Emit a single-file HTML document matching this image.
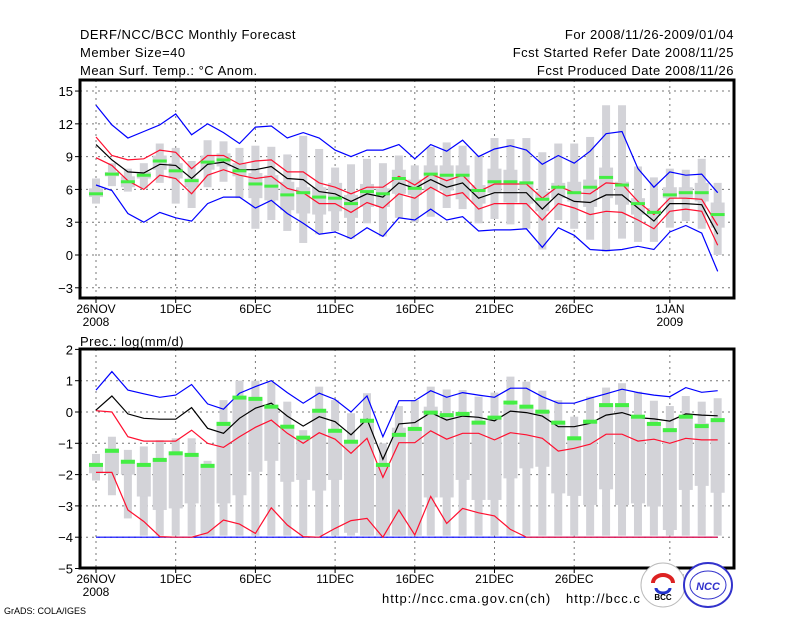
<!DOCTYPE html>
<html><head><meta charset="utf-8"><style>
body{margin:0;background:#fff;}
svg text{font-family:"Liberation Sans",sans-serif;}
.hd{letter-spacing:0.5px;}
</style></head><body>
<svg id="c" width="800" height="618" viewBox="0 0 800 618" xmlns="http://www.w3.org/2000/svg">
<rect width="800" height="618" fill="#fff"/>
<g font-size="13" fill="#000" class="hd">
<text x="80" y="39">DERF/NCC/BCC Monthly Forecast</text>
<text x="80" y="57">Member Size=40</text>
<text x="80" y="75">Mean Surf. Temp.: °C Anom.</text>
<text x="734" y="39" text-anchor="end">For 2008/11/26-2009/01/04</text>
<text x="734" y="57" text-anchor="end">Fcst Started Refer Date 2008/11/25</text>
<text x="734" y="75" text-anchor="end">Fcst Produced Date 2008/11/26</text>
</g>
<text x="80" y="346" font-size="13" class="hd">Prec.: log(mm/d)</text>
<g id="top"></g><g id="bot"></g>
<text x="382" y="603" font-size="13" style="letter-spacing:1px">http://ncc.cma.gov.cn(ch)</text>
<text x="566" y="603" font-size="13" style="letter-spacing:1px">http://bcc.c</text>
<text x="4" y="614" font-size="9">GrADS: COLA/IGES</text>
<g><circle cx="663" cy="585" r="22" fill="#fff" stroke="#bbb"/><path d="M653 583 a10 8 0 1 1 20 0" fill="none" stroke="#d22" stroke-width="4"/><path d="M656 588 a7 5 0 1 0 14 0" fill="none" stroke="#23c" stroke-width="3"/><text x="663" y="600" font-size="8" text-anchor="middle" font-weight="bold">BCC</text></g>
<g><ellipse cx="708" cy="585" rx="24" ry="22" fill="#fff" stroke="#33c" stroke-width="2"/><ellipse cx="708" cy="585" rx="18" ry="14" fill="none" stroke="#33c"/><text x="708" y="590" font-size="11" text-anchor="middle" fill="#33c" font-style="italic" font-weight="bold">NCC</text></g>
</svg>
<script>
const days=40;
const tMax=[13.7,11.9,10.7,11.3,11.9,12.9,11,12,11.2,10.2,11.7,11.8,10.7,11.2,10.7,9.6,9.0,9.6,9.6,10.1,8.8,10.1,9.5,10.5,9.0,9.7,10.0,9.6,8.3,9.1,8.4,9.5,11.1,11.3,7.9,6.2,7.6,7.3,7.4,5.7];
const tUp=[10.8,9.1,8.7,8.8,9.6,9.4,7.9,9.1,9.1,8.3,8.6,8.7,7.6,7.6,6.6,6.2,5.6,6.2,6.2,7.2,6.4,7.4,6.8,7.3,5.8,6.5,6.5,6.5,5.2,6.3,5.7,5.6,6.6,6.5,4.9,3.7,5.2,5.2,5.1,2.7];
const tMean=[10.1,8.7,7.6,7.5,8.3,8.2,7.0,8.3,8.5,7.8,7.8,8.1,7.0,6.9,5.8,5.6,4.9,5.6,5.3,6.6,6.1,6.9,6.2,6.6,5.2,5.7,5.7,5.7,4.2,5.6,4.9,4.8,5.5,5.5,4.3,3.1,4.7,4.7,4.6,1.9];
const tLo=[8.9,8.2,6.8,6.0,7.3,7.0,5.6,7.3,7.8,7.3,7.0,7.2,6.1,5.7,4.7,4.7,3.9,4.8,4.3,5.6,5.2,6.2,5.4,5.7,4.2,4.7,4.7,4.7,3.2,4.7,4.3,3.7,4.0,3.9,3.2,2.4,4.0,4.2,4.0,0.9];
const tMin=[6.4,5.9,3.8,3.0,3.9,3.4,3.1,4.7,5.3,5.3,4.3,5.0,3.8,2.9,1.9,2.1,1.5,2.5,1.7,3.4,3.2,4.2,3.2,3.5,2.2,2.3,2.3,2.4,0.7,2.5,1.8,0.5,0.4,0.5,0.8,0.5,2.1,2.7,2.0,-1.5];
const tWhHi=[7.0,8.4,7.9,8.4,10.2,9.8,8.6,10.5,10.4,9.8,10.0,9.9,9.2,10.9,9.7,8.0,8.3,8.8,8.4,9.1,8.2,9.9,10.3,10.0,9.1,10.7,10.6,10.7,9.4,10.2,10.2,10.8,13.7,13.7,8.1,7.1,7.9,7.8,8.8,6.6];
const tWhLo=[4.7,6.3,5.8,6.1,6.6,4.7,4.3,6.2,6.7,5.2,2.4,3.2,2.2,1.1,1.9,2.2,1.5,2.9,1.7,3.4,3.0,3.5,4.3,4.2,2.9,3.3,2.8,2.4,0.5,3.2,2.4,1.4,0.3,1.5,1.2,1.2,2.5,3.1,2.4,0.0];
const tBxHi=[6.1,7.6,7.2,7.6,9.1,8.4,7.0,9.1,9.3,8.4,7.5,7.3,6.7,6.2,6.2,6.6,5.5,6.5,6.1,7.8,6.9,8.2,8.2,8.2,6.4,7.9,7.8,6.7,5.8,6.6,6.7,6.9,8.0,6.7,5.2,4.3,6.2,6.2,6.6,4.8];
const tBxLo=[5.3,7.2,6.2,7.0,7.8,7.0,6.2,7.8,8.1,7.2,5.2,5.0,4.1,3.8,3.7,4.0,3.4,4.4,4.4,5.6,5.5,5.9,5.9,5.1,4.7,5.7,4.8,4.7,4.0,5.2,4.9,4.4,5.2,4.6,3.7,3.6,5.2,5.2,4.9,2.5];
const tMed=[5.6,7.4,6.7,7.3,8.6,7.7,6.8,8.5,8.7,7.7,6.5,6.3,5.5,5.7,5.3,5.2,4.7,5.8,5.6,7.0,6.1,7.4,7.3,7.3,5.9,6.7,6.7,6.6,5.1,6.2,5.7,6.2,7.1,6.4,4.7,3.9,5.5,5.7,5.7,3.7];
const pMax=[0.7,1.29,0.7,0.58,0.47,0.54,0.88,0.26,0.09,0.6,0.81,1.0,0.62,0.28,0.6,0.4,0.0,0.51,-0.79,0.36,0.36,0.68,0.47,0.62,0.54,0.47,0.76,0.76,0.49,0.28,0.28,0.44,0.58,0.73,0.62,0.54,0.49,0.78,0.63,0.68];
const pMean=[0.06,0.51,-0.06,-0.2,-0.23,-0.23,0.14,-0.52,-0.68,-0.2,0.12,0.28,-0.13,-0.45,-0.15,-0.31,-0.73,-0.23,-1.51,-0.38,-0.34,-0.02,-0.26,-0.13,-0.17,-0.28,0.03,-0.02,-0.13,-0.47,-0.47,-0.36,-0.1,-0.02,-0.18,-0.22,-0.29,-0.06,-0.1,-0.12];
const pUp=[0.04,0.0,-0.79,-0.93,-0.93,-0.93,-0.58,-1.0,-1.13,-0.79,-0.49,-0.26,-0.68,-1.0,-0.66,-0.87,-1.32,-0.84,-2.09,-0.98,-0.98,-0.6,-0.87,-0.68,-0.68,-0.89,-0.66,-0.73,-0.84,-1.25,-1.16,-1.03,-0.71,-0.71,-0.93,-0.87,-1.0,-0.84,-0.89,-0.89];
const pLo=[-1.93,-1.93,-3.13,-3.5,-3.98,-4,-4,-3.86,-3.45,-3.58,-3.88,-3.06,-3.61,-3.98,-4,-3.72,-3.47,-3.4,-4,-3.13,-3.93,-2.7,-3.56,-3.08,-3.22,-3.32,-3.75,-4,-4,-4,-4,-4,-4,-4,-4,-4,-4,-4,-4,-4];
const pMin=[-4,-4,-4,-4,-4,-4,-4,-4,-4,-4,-4,-4,-4,-4,-4,-4,-4,-4,-4,-4,-4,-4,-4,-4,-4,-4,-4,-4,-4,-4,-4,-4,-4,-4,-4,-4,-4,-4,-4,-4];
const pWhHi=[-1.34,-0.79,-1.21,-1.1,-0.9,-0.84,-0.84,-1.56,0.38,1.0,1.0,0.95,0.33,-0.58,0.81,0.38,-0.04,0.6,-1.0,0.19,0.38,0.81,0.72,0.7,0.49,0.62,1.13,0.97,0.68,0.38,-0.15,0.49,0.78,0.92,0.65,0.36,0.19,0.51,0.33,0.44];
const pWhLo=[-2.19,-2.66,-3.4,-3.95,-3.95,-3.95,-3.95,-3.95,-3.95,-3.95,-3.95,-3.95,-3.95,-3.95,-3.95,-3.95,-3.95,-3.95,-3.95,-3.95,-3.95,-3.95,-3.95,-3.95,-3.95,-3.95,-3.95,-3.95,-3.95,-3.95,-3.95,-3.95,-3.95,-3.95,-3.95,-3.95,-3.95,-3.95,-3.95,-3.95];
const pBxHi=[-1.64,-1.16,-1.53,-1.64,-1.51,-1.27,-1.32,-1.69,-0.31,0.51,0.44,0.22,-0.42,-0.86,0.09,-0.55,-0.9,-0.26,-1.64,-0.5,-0.5,0.17,-0.1,-0.1,-0.36,-0.13,0.22,0.17,0.01,-0.36,-0.79,-0.26,0.28,0.28,-0.1,-0.36,-0.52,-0.1,-0.36,-0.2];
const pBxLo=[-1.96,-1.98,-2.0,-2.7,-3.13,-3.08,-2.92,-3.95,-2.92,-2.66,-1.91,-1.56,-2.23,-2.17,-2.51,-2.17,-3.86,-3.95,-3.95,-3.95,-3.95,-2.73,-2.73,-2.17,-2.81,-2.81,-2.12,-1.8,-1.75,-2.6,-2.68,-2.97,-2.47,-2.97,-2.92,-3.02,-3.77,-2.49,-2.36,-2.58];
const pMed=[-1.69,-1.24,-1.59,-1.69,-1.53,-1.32,-1.37,-1.72,-0.38,0.46,0.42,0.17,-0.47,-0.82,0.04,-0.6,-0.95,-0.28,-1.69,-0.73,-0.54,-0.02,-0.1,-0.06,-0.34,-0.18,0.3,0.17,0.01,-0.34,-0.84,-0.31,0.22,0.22,-0.15,-0.38,-0.58,-0.15,-0.45,-0.26];
const xTickDays=[0,5,10,15,20,25,30,36];
const xTickLabels=["26NOV","1DEC","6DEC","11DEC","16DEC","21DEC","26DEC","1JAN"];
const xTickYears=["2008","","","","","","","2009"];
const tYTicks=[15,12,9,6,3,0,-3];
const pYTicks=[2,1,0,-1,-2,-3,-4,-5];

const NS="http://www.w3.org/2000/svg";
const X0=80,X1=734;
function xs(d){return 96+d*15.94;}
function mk(p,tag,a){const e=document.createElementNS(NS,tag);for(const k in a)e.setAttribute(k,a[k]);p.appendChild(e);return e;}
function panel(g,top,bot,ys,ticks,wh,whl,bh,bl,med,lines,gh,name){
  for(let i=0;i<ticks.length;i++){const y=ys(ticks[i]);
    const l=mk(g,'line',{x1:X0,x2:X1,y1:y,y2:y,stroke:'#777','stroke-dasharray':'2,4'});
    
    
    const t=mk(g,'text',{x:73,y:y+5,'text-anchor':'end','font-size':'13'});t.textContent=ticks[i]<0?'\u2212'+(-ticks[i]):ticks[i];
    
    
    mk(g,'line',{x1:X0-5,x2:X0,y1:y,y2:y,stroke:'#000'});}
  for(let i=0;i<xTickDays.length;i++){const x=xs(xTickDays[i]);
    const l=mk(g,'line',{x1:x,x2:x,y1:top,y2:bot,stroke:'#777','stroke-dasharray':'2,4'});
    
    
    mk(g,'line',{x1:x,x2:x,y1:bot,y2:bot+5,stroke:'#000'});
    const t=mk(g,'text',{x:x,y:bot+15,'text-anchor':'middle','font-size':'12'});t.textContent=xTickLabels[i];
    
    
    if(xTickYears[i]){const t2=mk(g,'text',{x:x,y:bot+28,'text-anchor':'middle','font-size':'12'});t2.textContent=xTickYears[i];
    
    }}
  for(let d=0;d<days;d++){const x=xs(d);
    const w=mk(g,'rect',{x:x-4,y:ys(wh[d]),width:8,height:Math.max(1,ys(whl[d])-ys(wh[d])),fill:'#d3d3d8'});
    
    
    const b=mk(g,'rect',{x:x-7,y:ys(bh[d]),width:14,height:Math.max(1,ys(bl[d])-ys(bh[d])),fill:'#d3d3d8'});
    
    }
  for(const [arr,col] of lines){
    const pts=arr.map((v,d)=>xs(d).toFixed(1)+','+ys(v).toFixed(1)).join(' ');
    const pl=mk(g,'polyline',{points:pts,fill:'none',stroke:col,'stroke-width':1.2});
    
    }
  for(let d=0;d<days;d++){const x=xs(d);
    const m=mk(g,'rect',{x:x-7,y:ys(med[d])-gh/2,width:14,height:gh,fill:'#44ee44'});
    
    }
  const f=mk(g,'rect',{x:X0,y:top,width:X1-X0,height:bot-top,fill:'none',stroke:'#000','stroke-width':3});
  
  
}
const ty=v=>255-v*10.93, py=v=>412-v*31.3;
const gt=document.getElementById('top');
const gb=document.getElementById('bot');
panel(gt,80,298,ty,tYTicks,tWhHi,tWhLo,tBxHi,tBxLo,tMed,[[tMax,'#0000ff'],[tMin,'#0000ff'],[tUp,'#ff1030'],[tLo,'#ff1030'],[tMean,'#000']],3,'temp');
panel(gb,349,568,py,pYTicks,pWhHi,pWhLo,pBxHi,pBxLo,pMed,[[pMin,'#0000ff'],[pLo,'#ff1030'],[pMax,'#0000ff'],[pUp,'#ff1030'],[pMean,'#000']],4,'prec');
</script>
</body></html>
